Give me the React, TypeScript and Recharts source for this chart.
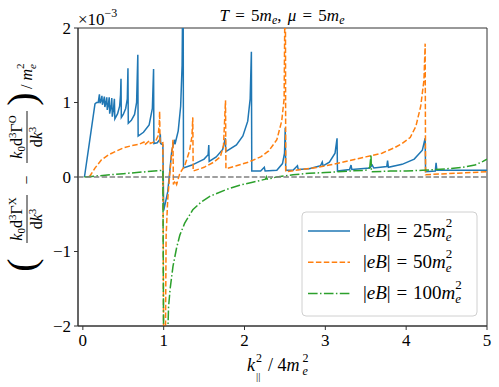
import React from 'react';
import { LineChart, Line, XAxis, YAxis, ReferenceLine, ReferenceArea } from 'recharts';

const SERIF = 'Liberation Serif';

const xTicks = [0, 1, 2, 3, 4, 5];
const yTicks = [-2, -1, 0, 1, 2];
const seriesNames = ['25', '50', '100'];

const blueXY: number[][] = [
  [0.02, 0], [0.08, 0.45], [0.15, 0.98], [0.17, 1.0], [0.19, 1.0], [0.205, 1.11], [0.212, 0.99],
  [0.228, 1.04], [0.236, 1.09], [0.242, 0.97], [0.258, 1.03], [0.266, 1.08], [0.272, 0.94],
  [0.288, 1.01], [0.296, 1.07], [0.302, 0.9], [0.318, 0.99], [0.326, 1.07], [0.332, 0.85],
  [0.35, 0.96], [0.358, 1.06], [0.364, 0.81], [0.38, 0.92], [0.39, 1.05], [0.396, 0.78],
  [0.43, 0.85], [0.455, 0.95], [0.466, 1.1], [0.472, 1.32], [0.476, 0.8], [0.5, 0.84],
  [0.53, 0.92], [0.55, 1.05], [0.558, 1.46], [0.562, 0.72], [0.6, 0.76], [0.64, 0.84],
  [0.665, 1.0], [0.68, 1.64], [0.684, 0.55], [0.75, 0.6], [0.82, 0.7], [0.86, 0.92],
  [0.875, 1.45], [0.879, 0.45], [0.92, 0.46], [0.95, 0.5], [0.958, 0.58], [0.963, 0.45],
  [0.99, 0.43], [1.0, -0.45], [1.02, -0.35], [1.05, -0.2], [1.1, 0.35], [1.135, 0.5],
  [1.14, 0.44], [1.18, 0.62], [1.21, 0.95], [1.228, 1.5], [1.24, 3.0], [1.245, 0.12],
  [1.35, 0.16], [1.5, 0.24], [1.55, 0.3], [1.558, 0.43], [1.563, 0.21], [1.65, 0.27],
  [1.73, 0.37], [1.763, 0.52], [1.768, 0.34], [1.9, 0.43], [1.98, 0.55], [2.04, 0.75],
  [2.07, 1.05], [2.085, 1.68], [2.09, 0.08], [2.2, 0.08], [2.245, 0.13], [2.255, 0.08],
  [2.4, 0.09], [2.47, 0.18], [2.495, 0.32], [2.504, 0.66], [2.51, 0.09], [2.6, 0.09],
  [2.655, 0.15], [2.665, 0.1], [2.8, 0.11], [2.94, 0.15], [2.962, 0.2], [2.972, 0.15],
  [3.05, 0.2], [3.12, 0.32], [3.145, 0.52], [3.15, 0.08], [3.3, 0.1], [3.318, 0.16],
  [3.328, 0.1], [3.55, 0.12], [3.58, 0.16], [3.6, 0.12], [3.76, 0.14], [3.77, 0.22],
  [3.78, 0.13], [3.95, 0.17], [4.1, 0.24], [4.2, 0.36], [4.235, 0.52], [4.24, 0.07],
  [4.36, 0.08], [4.37, 0.19], [4.38, 0.09], [4.6, 0.09], [5.0, 0.09],
];

const orangeXY: number[][] = [
  [0.08, 0], [0.15, 0.12], [0.23, 0.23], [0.32, 0.3], [0.4, 0.34], [0.5, 0.39], [0.6, 0.42],
  [0.7, 0.44], [0.755, 0.47], [0.765, 0.43], [0.825, 0.49], [0.835, 0.45], [0.9, 0.48],
  [0.93, 0.55], [0.945, 0.7], [0.95, 0.88], [0.955, 0.45], [0.99, 0.46], [1.0, -2.5],
  [1.02, -2.5], [1.03, -0.8], [1.05, -0.3], [1.08, 0.1], [1.11, 0.42], [1.115, 0.5],
  [1.12, -0.1], [1.14, -0.05], [1.16, -0.1], [1.2, 0.05], [1.26, 0.15], [1.32, 0.35],
  [1.35, 0.55], [1.36, 0.8], [1.365, 0.08], [1.5, 0.13], [1.62, 0.2], [1.7, 0.27],
  [1.74, 0.42], [1.765, 1.03], [1.77, 0.11], [1.9, 0.15], [2.05, 0.2], [2.2, 0.27],
  [2.3, 0.35], [2.4, 0.5], [2.46, 0.75], [2.49, 1.05], [2.505, 3.0], [2.51, 0.07],
  [2.7, 0.1], [2.9, 0.13], [3.1, 0.17], [3.3, 0.22], [3.5, 0.27], [3.7, 0.32], [3.85, 0.39],
  [3.95, 0.45], [4.05, 0.53], [4.12, 0.68], [4.18, 0.95], [4.22, 1.3], [4.235, 1.79],
  [4.24, 0.03], [4.6, 0.05], [5.0, 0.07],
];

const greenXY: number[][] = [
  [0.02, 0], [0.5, 0.045], [0.99, 0.09], [1.0, -2.5], [1.04, -2.5], [1.06, -1.75],
  [1.08, -1.5], [1.115, -1.2], [1.16, -0.95], [1.2, -0.78], [1.26, -0.62], [1.36, -0.44],
  [1.46, -0.34], [1.57, -0.26], [1.77, -0.17], [1.94, -0.11], [2.1, -0.07], [2.26, -0.03],
  [2.27, 0.0], [2.28, -0.03], [2.4, 0.0], [2.6, 0.03], [2.8, 0.05], [3.0, 0.06], [3.3, 0.08],
  [3.5, 0.09], [3.55, 0.13], [3.565, 0.3], [3.57, 0.07], [3.8, 0.08], [4.0, 0.08],
  [4.2, 0.09], [4.5, 0.11], [4.7, 0.13], [4.85, 0.16], [4.95, 0.21], [5.0, 0.24],
];

const toPts = (a: number[][]) => a.map(([x, y]) => ({ x, y }));
const blue = toPts(blueXY);
const orange = toPts(orangeXY);
const green = toPts(greenXY);

const colors = ['#1f77b4', '#ff7f0e', '#2ca02c'];
const dashes = [undefined, '5.5 2.4', '9.6 2.4 1.5 2.4'];

const fmt = (v: number) => String(v).replace('-', '\u2212');

const R = { fontFamily: SERIF };
const I = { fontFamily: SERIF, fontStyle: 'italic' as const };

function XTick(props: any) {
  const { x, y, payload } = props;
  return (
    <text x={x} y={y} dy="0.71em" textAnchor="middle" fontSize={17} fill="#000" style={R}>
      {fmt(payload.value)}
    </text>
  );
}

function YTick(props: any) {
  const { x, y, payload } = props;
  return (
    <text x={x} y={y} dy="0.34em" textAnchor="end" fontSize={17} fill="#000" style={R}>
      {fmt(payload.value)}
    </text>
  );
}

function Overlay() {
  return (
    <svg width={499} height={387} style={{ position: 'absolute', left: 0, top: 0, pointerEvents: 'none' }}
      fill="#000">
      <text x={282} y={21} fontSize={17} textAnchor="middle" style={{ ...R, wordSpacing: 2 }}>
        <tspan style={I}>T</tspan><tspan style={R}>{' = 5'}</tspan><tspan style={I}>m</tspan>
        <tspan style={I} fontSize={12} dy={3}>e</tspan>
        <tspan style={R} dy={-3}>{', '}</tspan><tspan style={I}>μ</tspan><tspan style={R}>{' = 5'}</tspan>
        <tspan style={I}>m</tspan>
        <tspan style={I} fontSize={12} dy={3}>e</tspan>
      </text>
      <text x={78} y={25} fontSize={17} style={R}>×10<tspan style={R} fontSize={12} dy={-8}>−3</tspan></text>
      {/* x label */}
      <text x={247} y={371} fontSize={18} style={I}>k</text>
      <text x={256} y={362} fontSize={12} style={R}>2</text>
      <text x={256} y={380} fontSize={11} style={R}>||</text>
      <text x={268} y={371} fontSize={18} style={R}>/ 4<tspan style={I}>m</tspan></text>
      <text x={302.5} y={362} fontSize={12} style={R}>2</text>
      <text x={302.5} y={375} fontSize={12} style={I}>e</text>
      {/* y label */}
      <g transform="translate(0,177) rotate(-90)">
        <text x={-88} y={35} fontSize={40} textAnchor="middle" style={R}>(</text>
        <text x={-42} y={22} fontSize={16} textAnchor="middle" style={R}>
          <tspan style={I}>k</tspan><tspan style={R} fontSize={11} dy={3}>0</tspan>
          <tspan style={R} dy={-3}>d</tspan><tspan style={R} fontSize={11} dy={-6}>3</tspan>
          <tspan style={R} dy={6}>Γ</tspan><tspan style={R} fontSize={11} dy={-6}>X</tspan>
        </text>
        <line x1={-66} x2={-18} y1={27} y2={27} stroke="#000" strokeWidth={0.9} />
        <text x={-42} y={42} fontSize={16} textAnchor="middle" style={R}>
          <tspan style={R}>d</tspan><tspan style={I}>k</tspan><tspan style={R} fontSize={11} dy={-6}>3</tspan>
        </text>
        <text x={-3} y={32} fontSize={16} textAnchor="middle" style={R}>−</text>
        <text x={40} y={22} fontSize={16} textAnchor="middle" style={R}>
          <tspan style={I}>k</tspan><tspan style={R} fontSize={11} dy={3}>0</tspan>
          <tspan style={R} dy={-3}>d</tspan><tspan style={R} fontSize={11} dy={-6}>3</tspan>
          <tspan style={R} dy={6}>Γ</tspan><tspan style={R} fontSize={11} dy={-6}>O</tspan>
        </text>
        <line x1={14} x2={66} y1={27} y2={27} stroke="#000" strokeWidth={0.9} />
        <text x={40} y={42} fontSize={16} textAnchor="middle" style={R}>
          <tspan style={R}>d</tspan><tspan style={I}>k</tspan><tspan style={R} fontSize={11} dy={-6}>3</tspan>
        </text>
        <text x={78} y={35} fontSize={40} textAnchor="middle" style={R}>)</text>
        <text x={88} y={32} fontSize={16} style={R}>/ <tspan style={I}>m</tspan></text>
        <text x={108} y={24} fontSize={11} style={R}>2</text>
        <text x={108} y={36} fontSize={11} style={I}>e</text>
      </g>
      {/* legend */}
      <rect x={302} y={212} width={175} height={104} rx={4} fill="#fff" fillOpacity={0.85} stroke="#d0d0d0" />
      {seriesNames.map((n, i) => {
        const cy = 231 + i * 31.2;
        return (
          <g key={n}>
            <line x1={308} x2={350} y1={cy} y2={cy} stroke={colors[i]} strokeWidth={1.5} strokeDasharray={dashes[i]} />
            <text x={363} y={cy + 6} fontSize={19} style={{ ...R, wordSpacing: 1 }}>
              <tspan style={R}>|</tspan><tspan style={I}>eB</tspan><tspan style={R}>{'| = ' + n}</tspan>
              <tspan style={I}>m</tspan>
              <tspan style={R} fontSize={13} dy={-10}>2</tspan>
              <tspan style={I} fontSize={13} dx={-6.5} dy={14}>e</tspan>
            </text>
          </g>
        );
      })}
    </svg>
  );
}

export default function App() {
  return (
    <div style={{ position: 'absolute', left: 0, top: 0, width: 499, height: 387, background: '#fff' }}>
      <LineChart width={499} height={387} margin={{ top: 28, right: 12, bottom: 31, left: 0 }}>
        <XAxis type="number" dataKey="x" domain={[-0.06, 5]} ticks={xTicks} interval={0}
          allowDataOverflow height={30} tickSize={4} tickMargin={4}
          tick={<XTick />} axisLine={{ stroke: '#333' }} tickLine={{ stroke: '#333' }} />
        <YAxis type="number" domain={[-2, 2]} ticks={yTicks} interval={0} allowDataOverflow
          width={78} tickSize={4} tickMargin={3}
          tick={<YTick />} axisLine={{ stroke: '#333' }} tickLine={{ stroke: '#333' }} />
        <ReferenceArea x1={-0.06} x2={5} y1={-2} y2={2} fill="none" stroke="#333" strokeWidth={1} />
        <Line data={blue} dataKey="y" name={seriesNames[0]} type="linear" stroke={colors[0]}
          strokeWidth={1.5} dot={false} isAnimationActive={false} />
        <Line data={orange} dataKey="y" name={seriesNames[1]} type="linear" stroke={colors[1]}
          strokeWidth={1.5} strokeDasharray={dashes[1]} dot={false} isAnimationActive={false} />
        <Line data={green} dataKey="y" name={seriesNames[2]} type="linear" stroke={colors[2]}
          strokeWidth={1.5} strokeDasharray={dashes[2]} dot={false} isAnimationActive={false} />
        <ReferenceLine y={0} stroke="#808080" strokeWidth={1.5} strokeDasharray="5.5 2.4" />
      </LineChart>
      <Overlay />
    </div>
  );
}
